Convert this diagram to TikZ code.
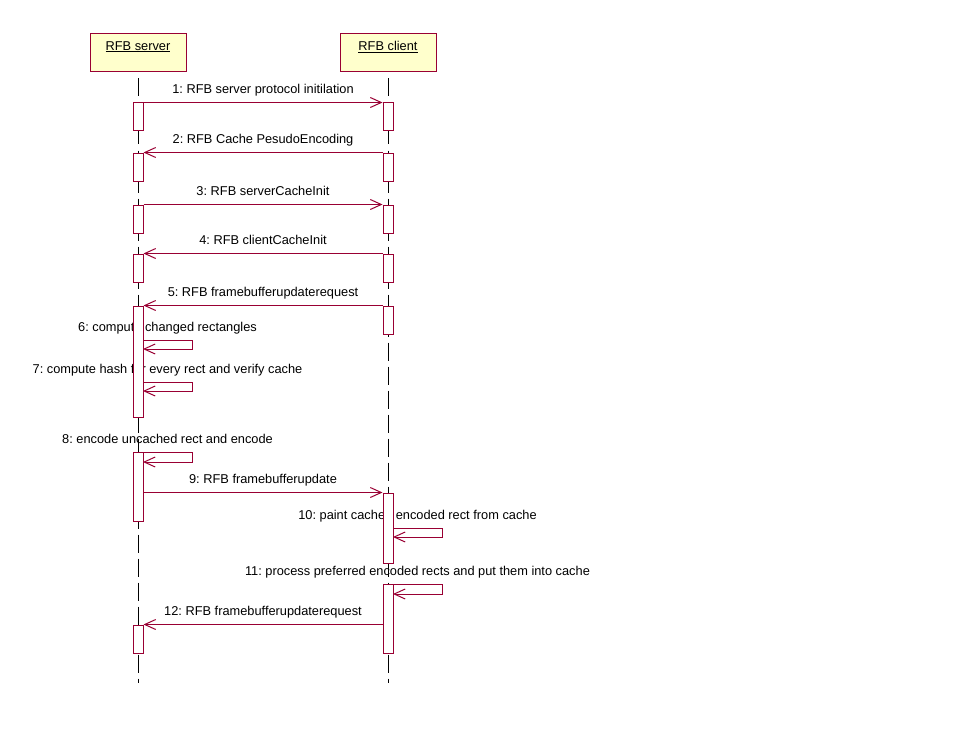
\documentclass[tikz,border=0pt]{standalone}
\usepackage{fontspec}
\setmainfont{Liberation Sans}
\usetikzlibrary{calc,arrows.meta}
\definecolor{rosered}{RGB}{153,0,51}
\definecolor{roseyellow}{RGB}{255,255,204}
\definecolor{actfill}{RGB}{255,255,255}
\pgfdeclarelayer{background}
\pgfsetlayers{background,main}
\frenchspacing

\begin{document}
\begin{tikzpicture}[x=1pt,y=-1pt,
	every node/.style={font=\fontsize{12.8}{15}\selectfont},
	objbox/.style={draw,rosered,fill=roseyellow,line width=1pt,minimum width=96pt,minimum height=38pt,inner sep=0pt},
	objtext/.style={anchor=north,inner sep=0pt,yshift=-7.5pt,text=black},
	act/.style={rectangle,draw,rosered,fill=actfill,line width=1pt,minimum width=10pt,inner sep=0pt},
	lifeline/.style={black,line width=1pt,dash pattern=on 18pt off 6pt},
	msg/.style={rosered,line width=1pt,-{Straight Barb[length=11pt,width=10pt]}},
	msgtext/.style={anchor=base,yshift=9pt,inner sep=0pt,text=black}]
	\useasboundingbox (0,0) rectangle (958,749);
	% objects
	\node[objbox,label={[objtext]north:\underline{RFB server}}] (server) at (138,53) {};
	\node[objbox,label={[objtext]north:\underline{RFB client}}] (client) at (388,53) {};
	\coordinate (send) at (138,683);
	\coordinate (cend) at (388,683);
	% activations
	\node[act,minimum height=28pt] (sa1) at (138,117) {};
	\node[act,minimum height=28pt] (sa2) at (138,167) {};
	\node[act,minimum height=28pt] (sa3) at (138,219) {};
	\node[act,minimum height=28pt] (sa4) at (138,268) {};
	\node[act,minimum height=111pt] (sa5) at (138,361.5) {};
	\node[act,minimum height=69pt] (sa6) at (138,486.5) {};
	\node[act,minimum height=28pt] (sa7) at (138,639) {};
	\node[act,minimum height=28pt] (ca1) at (388,117) {};
	\node[act,minimum height=28pt] (ca2) at (388,167) {};
	\node[act,minimum height=28pt] (ca3) at (388,219) {};
	\node[act,minimum height=28pt] (ca4) at (388,268) {};
	\node[act,minimum height=28pt] (ca5) at (388,320) {};
	\node[act,minimum height=70pt] (ca6) at (388,528) {};
	\node[act,minimum height=69pt] (ca7) at (388,618.5) {};
	% self calls
	\coordinate (m6s) at (143,340);
	\coordinate (m6e) at (143,349);
	\coordinate (m7s) at (143,382);
	\coordinate (m7e) at (143,391);
	\coordinate (m8s) at (143,452);
	\coordinate (m8e) at (143,462);
	\coordinate (m10s) at (393,528);
	\coordinate (m10e) at (393,537);
	\coordinate (m11s) at (393,584);
	\coordinate (m11e) at (393,594);
	% lifelines and messages behind the activations
	\begin{pgfonlayer}{background}
	\draw[lifeline] ($(server.south)+(0,6)$) -- (send);
	\draw[lifeline] ($(client.south)+(0,6)$) -- (cend);
	\draw[msg] (sa1.north east) -- node[msgtext] (l1) {1: RFB server protocol initilation} (ca1.north west);
	\draw[msg] (ca2.north west) -- node[msgtext] (l2) {2: RFB Cache PesudoEncoding} (sa2.north east);
	\draw[msg] (sa3.north east) -- node[msgtext] (l3) {3: RFB serverCacheInit} (ca3.north west);
	\draw[msg] (ca4.north west) -- node[msgtext] (l4) {4: RFB clientCacheInit} (sa4.north east);
	\draw[msg] (ca5.north west) -- node[msgtext] (l5) {5: RFB framebufferupdaterequest} (sa5.north east);
	\draw[msg] (m6s) -- node[msgtext] (l6) {6: compute changed rectangles} ++(49,0) |- (m6e);
	\draw[msg] (m7s) -- node[msgtext] (l7) {7: compute hash for every rect and verify cache} ++(49,0) |- (m7e);
	\draw[msg] (m8s) -- node[msgtext] (l8) {8: encode uncached rect and encode} ++(49,0) |- (m8e);
	\draw[msg] (ca6.north west -| sa6.east) -- node[msgtext] (l9) {9: RFB framebufferupdate} (ca6.north west);
	\draw[msg] (m10s) -- node[msgtext] (l10) {10: paint cached encoded rect from cache} ++(49,0) |- (m10e);
	\draw[msg] (m11s) -- node[msgtext] (l11) {11: process preferred encoded rects and put them into cache} ++(49,0) |- (m11e);
	\draw[msg] (sa7.north east -| ca7.west) -- node[msgtext] (l12) {12: RFB framebufferupdaterequest} (sa7.north east);
	\end{pgfonlayer}
\end{tikzpicture}
\end{document}
